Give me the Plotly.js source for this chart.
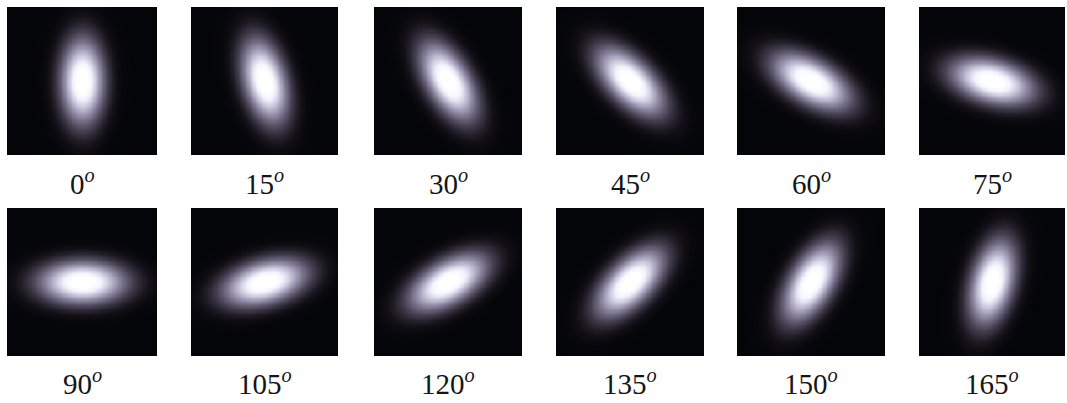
<!DOCTYPE html>
<html>
<head>
<meta charset="utf-8">
<script src="https://cdn.plot.ly/plotly-3.0.1.min.js"></script>
<style>
  html, body { margin: 0; padding: 0; background: #ffffff; }
  #plot { width: 1067px; height: 403px; }
</style>
</head>
<body>
<div id="plot"></div>
<script>
// Orientation of the anisotropic Gaussian in each panel (degrees)
const angles = [0, 15, 30, 45, 60, 75, 90, 105, 120, 135, 150, 165];
// Panel captions
const captions = angles.map(a => a + '<sup><i>o</i></sup>');
// Gaussian widths along the major / minor axis (panel half-width = 1)
const sigmaMajor = 0.36;
const sigmaMinor = 0.18;
// Sample grid
const gridN = 121;

const W = 1067, H = 403;
// Panel boxes in pixels
const colLeft  = [7, 191, 374, 556, 737, 919];
const colRight = [157, 338, 522, 704, 885, 1065];
const rowTop    = [7, 208];
const rowBottom = [155, 356];
const captionY  = [182, 382];

const coords = [];
for (let i = 0; i < gridN; i++) coords.push(-1 + 2 * i / (gridN - 1));

function gaussianField(deg) {
  const t = deg * Math.PI / 180;
  // major axis direction: vertical at 0, rotating clockwise on screen
  const ux = Math.sin(t), uy = -Math.cos(t);
  const z = [];
  for (let j = 0; j < gridN; j++) {
    const y = coords[j];
    const row = [];
    for (let i = 0; i < gridN; i++) {
      const x = coords[i];
      const a = x * ux + y * uy;      // along major axis
      const b = -x * uy + y * ux;     // along minor axis
      row.push(Math.exp(-0.5 * (a * a / (sigmaMajor * sigmaMajor) + b * b / (sigmaMinor * sigmaMinor))));
    }
    z.push(row);
  }
  return z;
}

// black -> muted lavender -> white
const glowScale = [
  [0.00, 'rgb(4,5,8)'],
  [0.04, 'rgb(17,15,21)'],
  [0.12, 'rgb(48,43,56)'],
  [0.28, 'rgb(98,92,114)'],
  [0.48, 'rgb(152,147,172)'],
  [0.68, 'rgb(203,201,222)'],
  [0.86, 'rgb(243,244,252)'],
  [1.00, 'rgb(255,255,255)']
];

const data = [];
const layout = {
  width: W, height: H,
  margin: {l: 0, r: 0, t: 0, b: 0},
  paper_bgcolor: '#ffffff',
  plot_bgcolor: '#000000',
  showlegend: false,
  annotations: []
};

angles.forEach((ang, k) => {
  const r = Math.floor(k / 6), c = k % 6;
  const idx = k + 1;
  const xa = 'x' + (idx === 1 ? '' : idx);
  const ya = 'y' + (idx === 1 ? '' : idx);
  data.push({
    type: 'heatmap',
    x: coords, y: coords,
    z: gaussianField(ang),
    xaxis: xa, yaxis: ya,
    colorscale: glowScale,
    zmin: 0, zmax: 0.92,
    zsmooth: 'best',
    showscale: false,
    hoverinfo: 'skip'
  });
  const axBase = {
    showgrid: false, zeroline: false, showticklabels: false,
    ticks: '', showline: false, range: [-1, 1], fixedrange: true
  };
  layout['xaxis' + (idx === 1 ? '' : idx)] = Object.assign({}, axBase, {
    domain: [colLeft[c] / W, colRight[c] / W], anchor: ya
  });
  layout['yaxis' + (idx === 1 ? '' : idx)] = Object.assign({}, axBase, {
    domain: [1 - rowBottom[r] / H, 1 - rowTop[r] / H], anchor: xa
  });
  layout.annotations.push({
    text: captions[k],
    xref: 'paper', yref: 'paper',
    x: (colLeft[c] + colRight[c]) / 2 / W,
    y: 1 - captionY[r] / H,
    xanchor: 'center', yanchor: 'middle',
    showarrow: false,
    font: {family: '"Liberation Serif", "DejaVu Serif", serif', size: 29, color: '#151515'}
  });
});

Plotly.newPlot('plot', data, layout, {displayModeBar: false});
</script>
</body>
</html>
